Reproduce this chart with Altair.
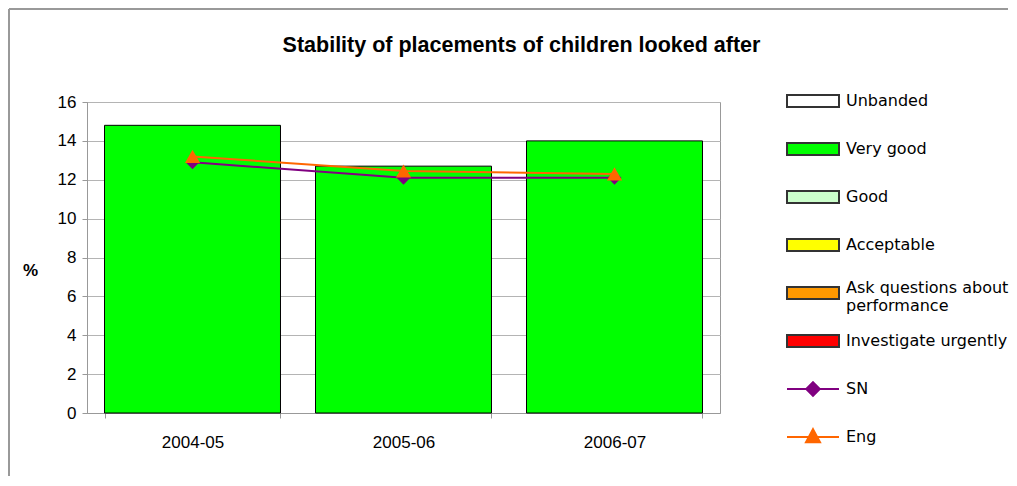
import altair as alt
import pandas as pd

# ---- data ----
years = ["2004-05", "2005-06", "2006-07"]
bar_values = [14.8, 12.7, 14.0]
bar_bands = ["Very good", "Very good", "Very good"]
sn_values = [12.9, 12.1, 12.1]
eng_values = [13.2, 12.45, 12.3]
y_ticks = [0, 2, 4, 6, 8, 10, 12, 14, 16]

legend_names = ["Unbanded", "Very good", "Good", "Acceptable",
                "Ask questions about performance", "Investigate urgently", "SN", "Eng"]

# ---- styles ----
legend_fills = ["#FFFFFF", "#00FF00", "#CCFFCC", "#FFFF00", "#FF9900", "#FF0000", "#800080", "#FF6600"]
legend_strokes = ["#333333"] * 6 + ["#800080", "#FF6600"]
RECT = "M-1,-0.23H1V0.23H-1Z"
legend_shapes = [RECT] * 6 + [
    "M-1,0H1M0,-0.26L0.26,0L0,0.26L-0.26,0Z",
    "M-1,0H1M0,-0.3L0.27,0.2L-0.27,0.2Z",
]

bar_df = pd.DataFrame({"year": years, "value": bar_values, "band": bar_bands})
line_df = pd.DataFrame({
    "year": years + years,
    "value": sn_values + eng_values,
    "series": ["SN"] * 3 + ["Eng"] * 3,
})
legend_df = pd.DataFrame({"name": legend_names})

fill_scale = alt.Scale(domain=legend_names, range=legend_fills)
stroke_scale = alt.Scale(domain=legend_names, range=legend_strokes)
shape_scale = alt.Scale(domain=legend_names, range=legend_shapes)

FONT = "Liberation Sans"
TWO_LINE = "Ask questions about performance"

x_enc = alt.X("year:N", sort=years,
              scale=alt.Scale(paddingInner=0.166, paddingOuter=0.083),
              axis=alt.Axis(title=None, labelAngle=0, tickBand="extent", tickSize=5,
                            labelPadding=16, labelFont=FONT, labelFontSize=17,
                            labelColor="black", grid=False, domainColor="#999999",
                            tickColor="#999999"))
y_enc = alt.Y("value:Q", scale=alt.Scale(domain=[0, 16], nice=False),
              axis=alt.Axis(values=y_ticks, title="%", titleAngle=0, titleFont=FONT,
                            titleFontWeight="bold", titleFontSize=17, titleColor="black",
                            titleX=-57, titleY=168, titleAlign="center",
                            titleBaseline="middle", labelFont=FONT, labelFontSize=17,
                            labelColor="black", tickSize=5, labelPadding=6,
                            tickColor="#999999", domainColor="#999999",
                            gridColor="#b4b4b4"))

leg_props = dict(
    orient="none", legendX=699, legendY=-28, title=None, padding=0,
    symbolSize=2704, symbolStrokeWidth=2, symbolOffset=0,
    labelFont="DejaVu Sans", labelFontSize=16, labelColor="black",
    labelOffset=6, labelLimit=400, rowPadding=0, gridAlign="all",
    labelExpr=f"datum.label == '{TWO_LINE}' ? ['Ask questions about', 'performance'] : datum.label",
    labelBaseline=alt.ExprRef(expr=f"datum.value == '{TWO_LINE}' ? 'alphabetic' : 'middle'"),
)

bars = alt.Chart(bar_df).mark_bar(stroke="black", strokeWidth=1).encode(
    x=x_enc, y=y_enc,
    fill=alt.Fill("band:N", scale=fill_scale, legend=alt.Legend(**leg_props)),
)

lines = alt.Chart(line_df).mark_line(strokeWidth=2).encode(
    x=x_enc, y=y_enc,
    stroke=alt.Stroke("series:N", scale=stroke_scale, legend=alt.Legend(**leg_props)),
)

sn_pts = alt.Chart(line_df).transform_filter(alt.datum.series == "SN").mark_point(
    shape="diamond", filled=True, size=190, color="#800080", opacity=1
).encode(x=x_enc, y=y_enc)

eng_pts = alt.Chart(line_df).transform_filter(alt.datum.series == "Eng").mark_point(
    shape="triangle-up", filled=True, size=230, color="#FF6600", opacity=1
).encode(x=x_enc, y=y_enc)

legend_layer = alt.Chart(legend_df).transform_filter("false").mark_point(filled=True).encode(
    fill=alt.Fill("name:N", scale=fill_scale, legend=alt.Legend(**leg_props)),
    stroke=alt.Stroke("name:N", scale=stroke_scale, legend=alt.Legend(**leg_props)),
    shape=alt.Shape("name:N", scale=shape_scale, legend=alt.Legend(**leg_props)),
)

one = alt.Data(values=[{}])
top_border = alt.Chart(one).mark_rule(color="#999999", strokeWidth=2).encode(
    x=alt.value(-78), x2=alt.value(921), y=alt.value(-93))
left_border = alt.Chart(one).mark_rule(color="#999999", strokeWidth=2).encode(
    x=alt.value(-78), y=alt.value(-93), y2=alt.value(374))

chart = alt.layer(top_border, left_border, bars, lines, sn_pts, eng_pts, legend_layer).properties(
    width=633, height=311, padding=0,
    title=alt.Title("Stability of placements of children looked after", font=FONT,
                    fontSize=21.5, fontWeight="bold", color="black", anchor="middle",
                    frame="bounds", offset=20, dy=68, dx=13),
).configure_view(stroke="#999999", strokeWidth=1)

chart.save("out.html", embed_options={"renderer": "svg", "actions": False})
